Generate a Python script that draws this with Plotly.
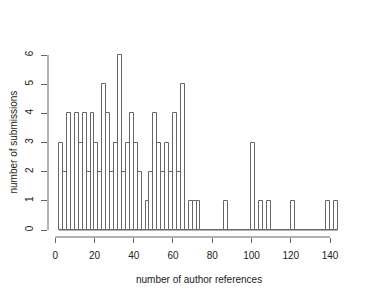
import plotly.graph_objects as go

# histogram data: bin edges (width 2) and counts
bin_start = 2
bin_width = 2
counts = [3, 2, 4, 0, 4, 3, 4, 2, 4, 3, 2, 5, 4, 2, 3, 6, 2, 3, 4, 3, 2, 0,
          1, 2, 4, 3, 2, 3, 2, 4, 2, 5, 0, 1, 1, 1,
          0, 0, 0, 0, 0, 0, 1,
          0, 0, 0, 0, 0, 0, 3, 0, 1, 0, 1,
          0, 0, 0, 0, 0, 1,
          0, 0, 0, 0, 0, 0, 0, 0, 1, 0, 1]
x_ticks = [0, 20, 40, 60, 80, 100, 120, 140]
y_ticks = [0, 1, 2, 3, 4, 5, 6]
x_title = "number of author references"
y_title = "number of submissions"

edges = [bin_start + i * bin_width for i in range(len(counts) + 1)]
centers = [(edges[i] + edges[i + 1]) / 2 for i in range(len(counts))]

FONT = "Liberation Sans, Arial, Helvetica, sans-serif"
LINE = "#666666"
TXT = "#222222"

fig = go.Figure()
fig.add_trace(go.Bar(
    x=centers, y=counts, width=bin_width,
    marker=dict(color="white", line=dict(color=LINE, width=1)),
    hoverinfo="x+y", showlegend=False,
))
# baseline for empty bins
fig.add_trace(go.Scatter(
    x=[edges[0], edges[-1]], y=[0, 0], mode="lines",
    line=dict(color=LINE, width=1), showlegend=False, hoverinfo="skip",
))

xr = edges[-1] - edges[0]
yr = max(counts)
# page body has an 8px default margin: shrink figure & top/left margins
fig.update_layout(
    width=366, height=290,
    margin=dict(l=40, r=25, t=40, b=61),
    paper_bgcolor="white", plot_bgcolor="white",
    bargap=0,
    font=dict(family=FONT, size=10, color=TXT),
    xaxis=dict(range=[edges[0] - 0.04 * xr, edges[-1] + 0.04 * xr],
               tickvals=x_ticks, ticks="outside", ticklen=5, tickcolor=LINE,
               tickwidth=1, showgrid=False, zeroline=False, showline=False,
               ticklabelstandoff=4, tickfont=dict(size=10, color=TXT)),
    yaxis=dict(range=[-0.04 * yr, yr * 1.04],
               tickvals=y_ticks, ticks="outside", ticklen=6, tickcolor=LINE,
               tickwidth=1, showgrid=False, zeroline=False, showline=False,
               tickangle=-90, ticklabelstandoff=4,
               tickfont=dict(size=10, color=TXT)),
    shapes=[
        dict(type="line", xref="x", yref="paper", x0=x_ticks[0], x1=x_ticks[-1],
             y0=0, y1=0, line=dict(color=LINE, width=1)),
        dict(type="line", xref="paper", yref="y", x0=0, x1=0,
             y0=y_ticks[0], y1=y_ticks[-1], line=dict(color=LINE, width=1)),
    ],
    annotations=[
        dict(text=x_title, xref="paper", yref="paper", x=0.5, y=0,
             xanchor="center", yanchor="middle", yshift=-42, showarrow=False,
             font=dict(size=10, color=TXT)),
        dict(text=y_title, xref="paper", yref="paper", x=0, y=0.5,
             xanchor="center", yanchor="middle", xshift=-35, textangle=-90,
             showarrow=False, font=dict(size=10, color=TXT)),
    ],
)

fig.write_html("out.html")
